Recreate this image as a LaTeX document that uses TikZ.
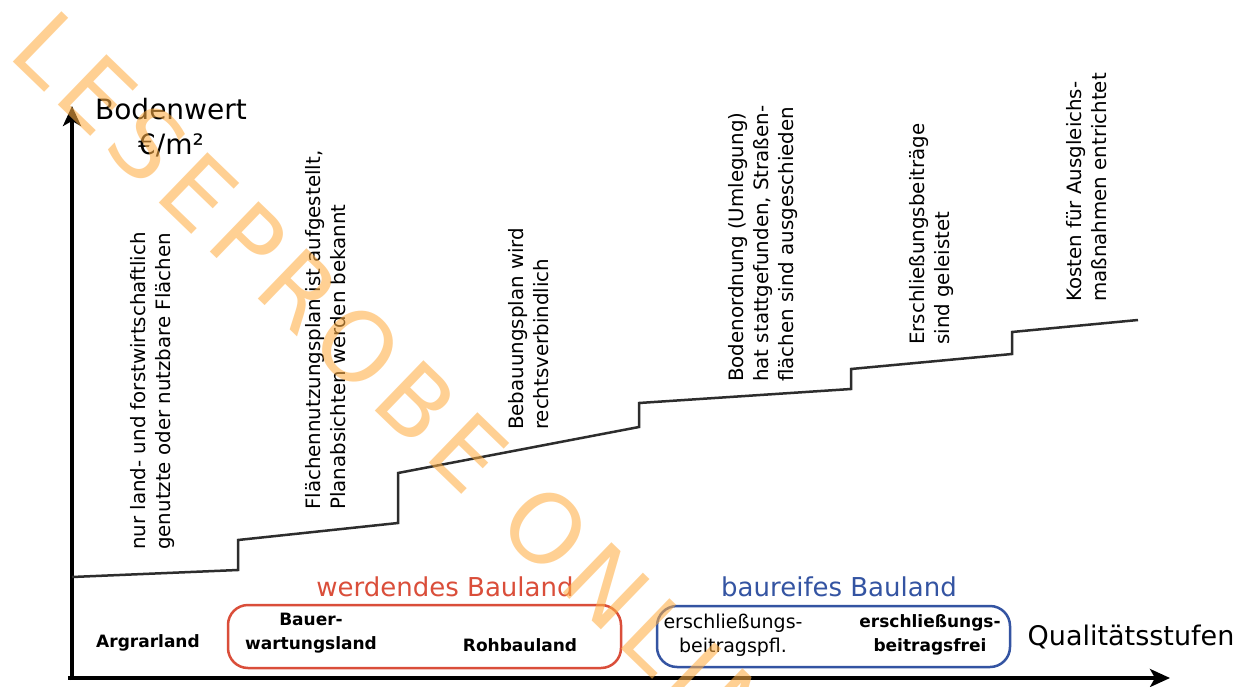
\documentclass[tikz,border=0pt]{standalone}
\usepackage{fontspec}
\setmainfont{DejaVu Sans}
\usetikzlibrary{arrows.meta}
\definecolor{redlab}{RGB}{218,78,58}
\definecolor{bluelab}{RGB}{52,84,162}
\definecolor{wmark}{RGB}{255,175,70}
\definecolor{stepc}{RGB}{45,45,45}
\begin{document}
\begin{tikzpicture}[x=1pt,y=-1pt,
  axisline/.style={line width=3.5pt, black, -{Stealth[length=20pt,width=18pt,inset=5pt]}},
  stepline/.style={line width=2.5pt, stepc, line join=miter},
  rotlab/.style={rotate=90, anchor=west, align=left, inner sep=0pt, font=\fontsize{19.8}{25}\selectfont},
  boldlab/.style={align=center, inner sep=0pt, font=\fontsize{17}{24}\selectfont\bfseries},
  reglab/.style={align=center, inner sep=0pt, font=\fontsize{19}{24}\selectfont},
  grouplab/.style={inner sep=0pt, font=\fontsize{26}{30}\selectfont},
  groupbox/.style={line width=2.5pt, rounded corners=20pt},
  wmarkstyle/.style={rotate=-44, anchor=base west, inner sep=0pt, text=wmark, opacity=0.58,
    font=\fontsize{96}{100}\selectfont\addfontfeature{LetterSpace=10}}
]
\fill[white] (0,0) rectangle (1244,687);
\useasboundingbox (0,0) rectangle (1244,687);

% axes
\coordinate (ybot) at (72,680);
\coordinate (ytip) at (72,106);
\coordinate (xleft) at (68,678);
\coordinate (xtip) at (1170,678);
\draw[axisline] (ybot) -- (ytip);
\draw[axisline] (xleft) -- (xtip);

\node[inner sep=0pt, align=center, font=\fontsize{28}{35}\selectfont] (ylab) at (171,128) {Bodenwert\\[0pt]€/m²};
\node[grouplab, font=\fontsize{27}{30}\selectfont] (xlab) at (1131,637) {Qualitätsstufen};

% step curve
\coordinate (p0) at (72,577);
\coordinate (p1) at (238,570);
\coordinate (p2) at (238,540);
\coordinate (p3) at (398,523);
\coordinate (p4) at (398,473);
\coordinate (p5) at (639,427);
\coordinate (p6) at (639,403);
\coordinate (p7) at (851,389);
\coordinate (p8) at (851,369);
\coordinate (p9) at (1012,354);
\coordinate (p10) at (1012,332);
\coordinate (p11) at (1138,320);
\draw[stepline] (p0) -- (p1) -- (p2) -- (p3) -- (p4) -- (p5) -- (p6) -- (p7) -- (p8) -- (p9) -- (p10) -- (p11);

% rotated labels
\node[rotlab] (l1) at (153,550) {nur land- und forstwirtschaftlich\\genutzte oder nutzbare Flächen};
\node[rotlab] (l2) at (326,510) {Flächennutzungsplan ist aufgestellt,\\Planabsichten werden bekannt};
\node[rotlab] (l3) at (529,430) {Bebauungsplan wird\\rechtsverbindlich};
\node[rotlab] (l4) at (763,382) {Bodenordnung (Umlegung)\\hat stattgefunden, Straßen-\\flächen sind ausgeschieden};
\node[rotlab] (l5) at (932,345) {Erschließungsbeiträge\\sind geleistet};
\node[rotlab] (l6) at (1087,302) {Kosten für Ausgleichs-\\maßnahmen entrichtet};

% bottom groups
\draw[groupbox, redlab] (228,605) rectangle (621,668);
\draw[groupbox, bluelab] (657,606) rectangle (1010,667);
\node[grouplab, text=redlab] (werd) at (445,587) {werdendes Bauland};
\node[grouplab, text=bluelab] (baur) at (839,587) {baureifes Bauland};

\node[boldlab] (agr) at (148,643) {Argrarland};
\node[boldlab] (bew) at (311,633) {Bauer-\\wartungsland};
\node[boldlab] (roh) at (520,645) {Rohbauland};
\node[reglab] (epfl) at (733,635) {erschließungs-\\beitragspfl.};
\node[boldlab] (efrei) at (930,635) {erschließungs-\\beitragsfrei};

% watermark
\node[wmarkstyle] (wm) at (6,55) {LESEPROBE ONLINE};
\end{tikzpicture}
\end{document}
